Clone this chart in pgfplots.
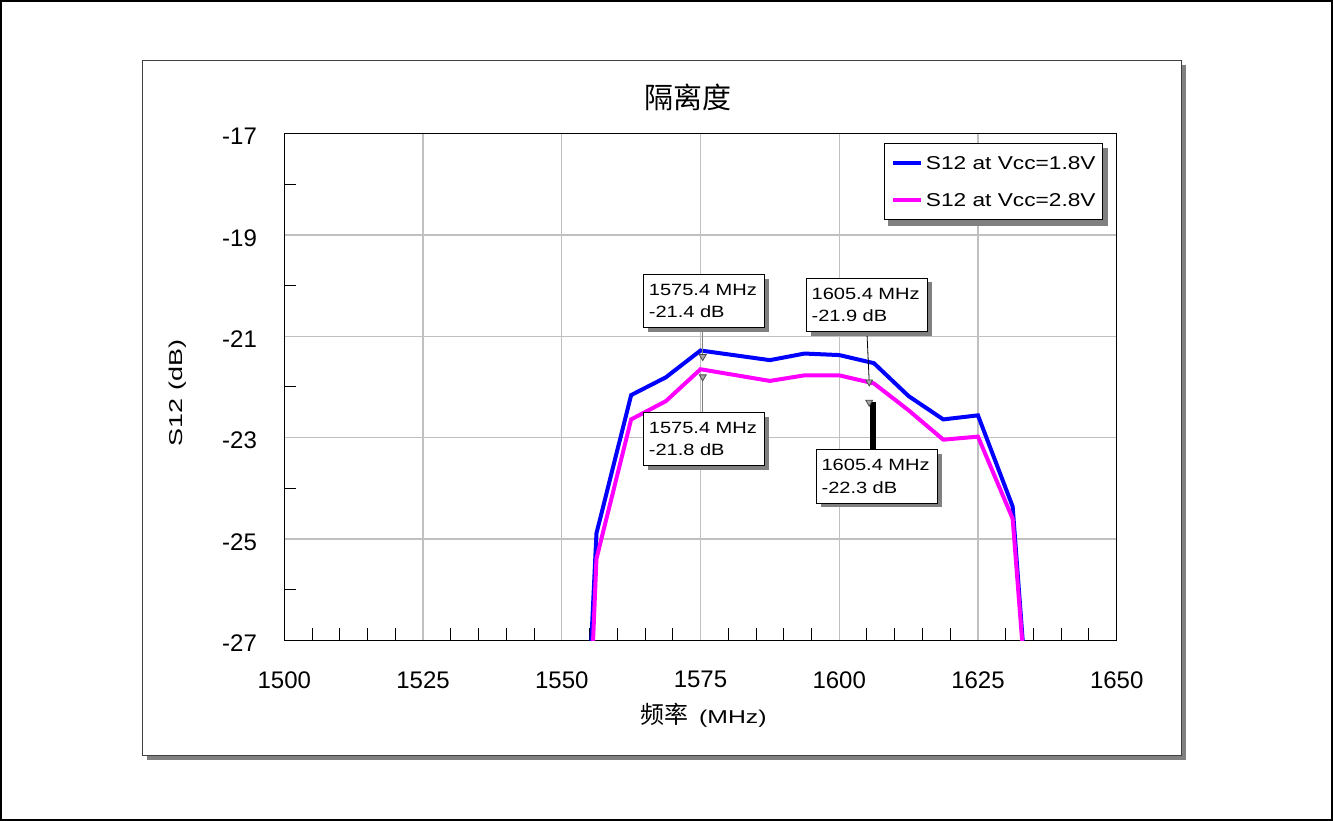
\documentclass[border=0pt]{standalone}
\usepackage{fontspec}
\setmainfont{Liberation Sans}
\newfontfamily\cjk{Noto Sans CJK SC}
\newfontfamily\lgdfont[FakeStretch=1.22]{Liberation Sans}
\newfontfamily\boxfont[FakeStretch=1.23]{Liberation Sans}
\newfontfamily\xlabfont[FakeStretch=1.33]{Liberation Sans}
\newfontfamily\ylabfont[FakeStretch=1.45]{Liberation Sans}
\usepackage{pgfplots}
\pgfplotsset{compat=1.18}
\usetikzlibrary{shadows}

\definecolor{vccA}{RGB}{0,0,255}
\definecolor{vccB}{RGB}{255,0,255}
\definecolor{gridgray}{RGB}{192,192,192}
\definecolor{shadowgray}{RGB}{128,128,128}
\definecolor{panelline}{RGB}{64,64,64}

% S12 at Vcc = 1.8 V
\pgfplotstableread{
f      s12
1550    -39.3
1556.25 -24.89
1562.5  -22.16
1568.75 -21.81
1575    -21.28
1587.5  -21.47
1593.75 -21.34
1600    -21.37
1606.25 -21.53
1612.5  -22.18
1618.75 -22.64
1625    -22.56
1631.25 -24.36
1637.5  -33.5
}\lowvcc

% S12 at Vcc = 2.8 V
\pgfplotstableread{
f      s12
1550    -42.0
1556.25 -25.39
1562.5  -22.64
1568.75 -22.28
1575    -21.65
1587.5  -21.88
1593.75 -21.77
1600    -21.77
1606.25 -21.93
1612.5  -22.46
1618.75 -23.04
1625    -22.98
1631.25 -24.60
1637.5  -33.4
}\highvcc

\tikzset{
  callout/.style={draw=black, line width=0.5bp, fill=white,
    drop shadow={shadow xshift=2.2bp, shadow yshift=-2.2bp, fill=shadowgray, opacity=1},
    font=\boxfont\fontsize{8.15bp}{11.3bp}\selectfont,
    align=left, text width=55.35bp, inner xsep=2.5bp, inner ysep=0pt,
    minimum height=26.65bp, anchor=north west},
}

\begin{document}
\begin{tikzpicture}
\useasboundingbox (0,0) rectangle (666.5bp,410.5bp);
% outer frame
\draw[line width=0.6bp] (0.5bp,0.5bp) rectangle (666bp,410bp);
% chart panel with shadow
\fill[shadowgray] (73.35bp,30.65bp) rectangle (592.85bp,378.15bp);
\draw[panelline, fill=white, line width=0.5bp] (71.35bp,32.65bp) rectangle (590.85bp,380.15bp);

\begin{axis}[
  at={(142.15bp,90.35bp)}, anchor=south west,
  scale only axis, width=416.2bp, height=253.3bp,
  xmin=1500, xmax=1650, ymin=-27, ymax=-17,
  xtick={1500,1525,...,1650}, ytick={-27,-25,...,-17},
  minor x tick num=4, minor y tick num=1,
  major tick length=0pt, minor tick length=6bp,
  tick pos=left, tick align=inside,
  minor tick style={black, line width=0.5bp},
  grid=major, major grid style={gridgray, line width=0.6bp},
  axis line style={black, line width=0.75bp},
  /pgf/number format/assume math mode=true,
  /pgf/number format/1000 sep={},
  ticklabel style={font=\fontsize{12bp}{14bp}\selectfont},
  yticklabel style={anchor=east, inner sep=0pt, xshift=-13.5bp, yshift=-1.5bp},
  xticklabel style={anchor=north, inner sep=0pt, yshift=-15.35bp},
  title={隔离度},
  title style={at={(0.485,1.0488)}, anchor=center, inner sep=0pt,
    font=\cjk\fontsize{14.5bp}{16bp}\selectfont},
  xlabel={{\cjk\fontsize{12bp}{14bp}\selectfont 频率}\hspace{5.5bp}(MHz)},
  xlabel style={at={(0.5034,-0.1638)}, anchor=base, inner sep=0pt,
    font=\xlabfont\fontsize{9.3bp}{11bp}\selectfont},
  ylabel={S12 (dB)},
  ylabel style={at={(-0.1277,0.488)}, anchor=center, inner sep=0pt,
    font=\ylabfont\fontsize{9.3bp}{11bp}\selectfont},
  legend image code/.code={\draw[#1, line width=2bp] (0bp,0bp) -- (14bp,0bp);},
  legend cell align=left,
  legend style={at={(0.9832,0.9822)}, anchor=north east,
    draw=black, line width=0.5bp, fill=white,
    font=\lgdfont\fontsize{9.3bp}{11bp}\selectfont,
    nodes={inner sep=0pt, text depth=0pt},
    inner xsep=3.3bp, inner ysep=6.7bp, column sep=1.35bp, row sep=11.9bp},
]
\addplot[vccA, line width=2bp] table[x=f, y=s12] {\lowvcc};
\addplot[vccB, line width=2bp] table[x=f, y=s12] {\highvcc};
\legend{S12 at Vcc=1.8V\hspace{3.4bp}, S12 at Vcc=2.8V\hspace{3.4bp}}

% legend shadow
\fill[shadowgray] (rel axis cs:0.7258,0.8172) rectangle (rel axis cs:0.9899,0.9714);

% callout leaders
\draw[shadowgray, line width=0.7bp] (axis cs:1575.4,-20.82) -- (axis cs:1575.4,-21.4);
\draw[shadowgray, line width=0.7bp] (axis cs:1575.4,-21.8) -- (axis cs:1575.4,-22.488);
\draw[black, line width=0.4bp] (axis cs:1604.98,-20.894) -- (axis cs:1605.4,-21.9);
\draw[black, line width=3bp] (axis cs:1606,-22.3) -- (axis cs:1606,-23.23);

% marker points
\addplot[only marks, mark=triangle*, mark size=2bp,
  mark options={rotate=180, fill=gray!70, draw=black!70, line width=0.4bp}]
  coordinates {(1575.4,-21.4) (1575.4,-21.8) (1605.4,-21.9) (1605.4,-22.3)};

% callout boxes
\node[callout] at (axis cs:1564.71,-19.77) {1575.4 MHz\\-21.4 dB};
\node[callout] at (axis cs:1564.71,-22.488) {1575.4 MHz\\-21.8 dB};
\node[callout] at (axis cs:1594.03,-19.84) {1605.4 MHz\\-21.9 dB};
\node[callout] at (axis cs:1595.83,-23.23) {1605.4 MHz\\-22.3 dB};
\end{axis}
\end{tikzpicture}
\end{document}
